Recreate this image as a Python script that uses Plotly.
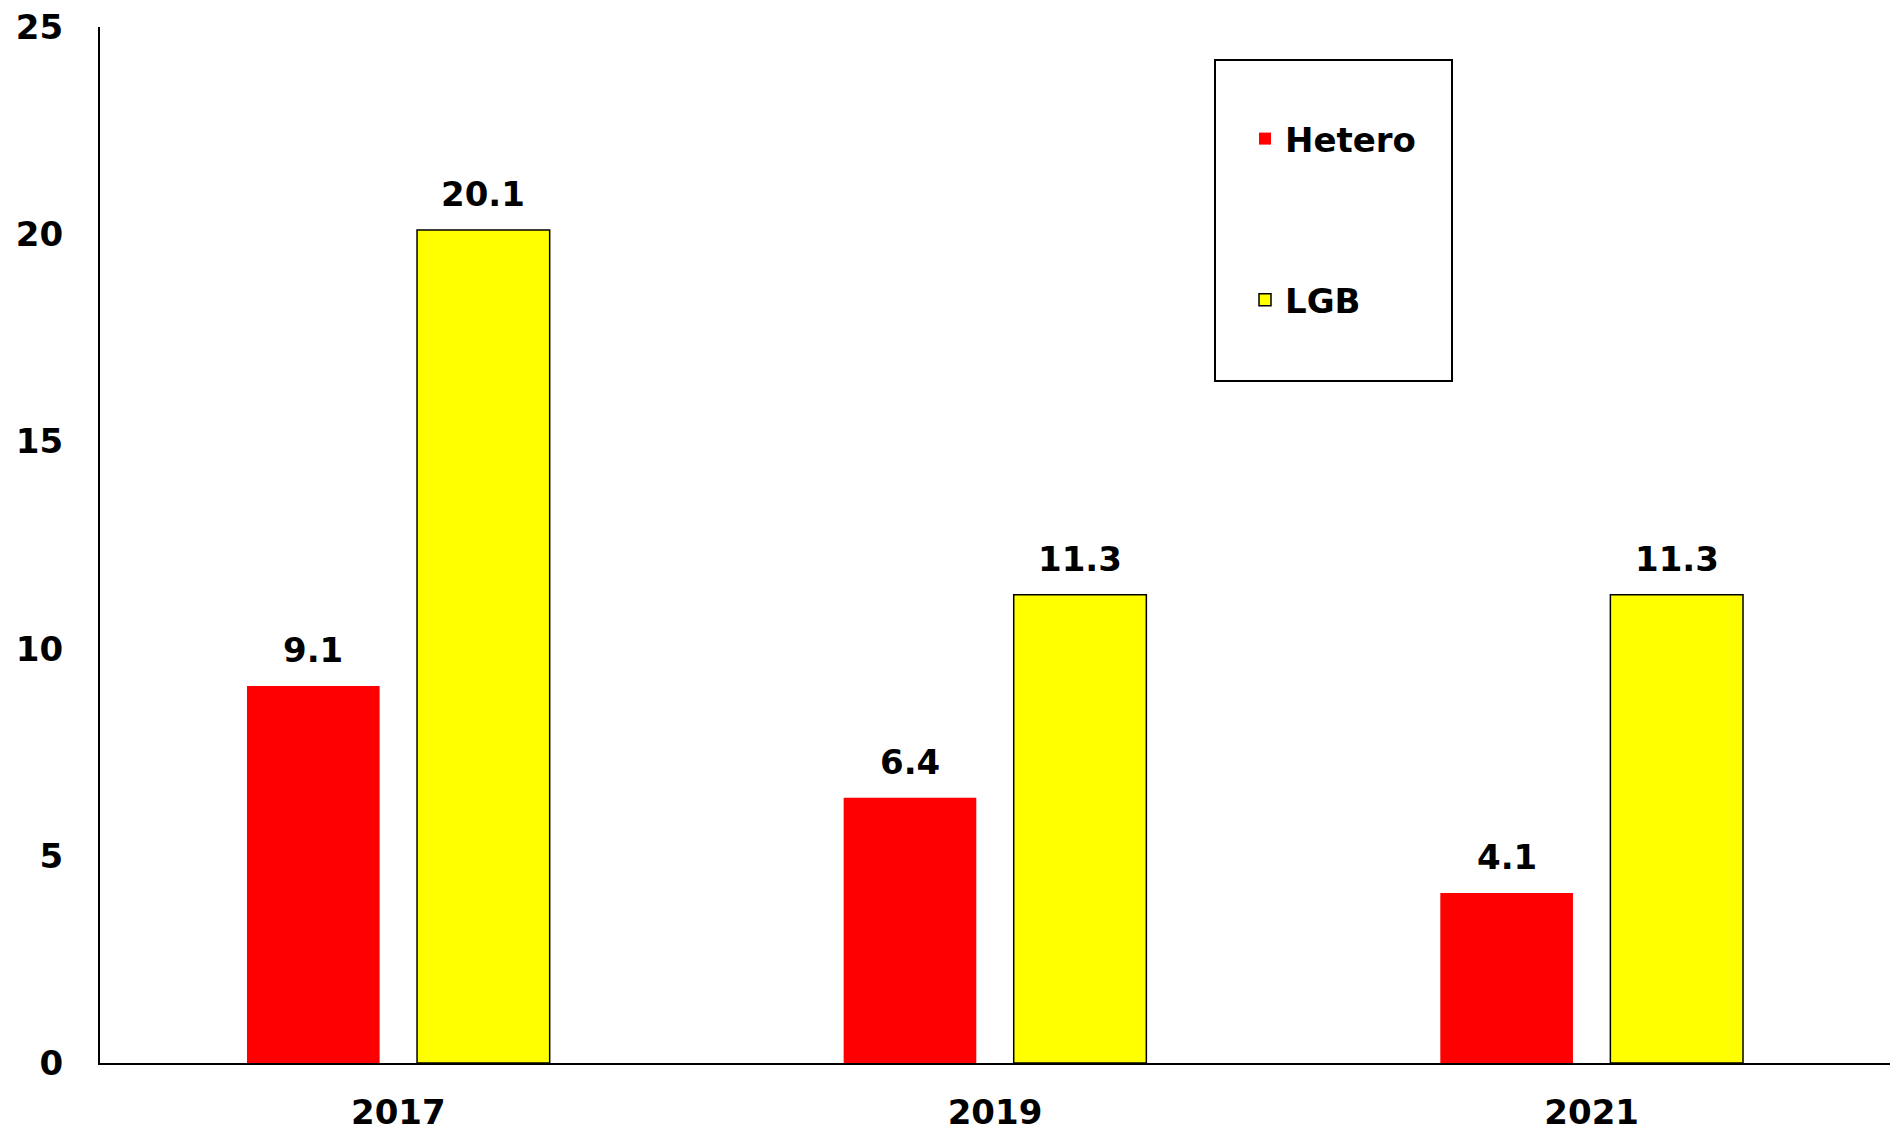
import plotly.graph_objects as go

years = ["2017", "2019", "2021"]
hetero = [9.1, 6.4, 4.1]
lgb = [20.1, 11.3, 11.3]
y_ticks = [0, 5, 10, 15, 20, 25]

FONT = "DejaVu Sans"
FS = 34
BOLD = dict(family=FONT, size=FS, color="black", weight="bold")

fig = go.Figure()
fig.add_trace(go.Bar(
    x=years, y=hetero, name="Hetero", legendgroup="a",
    marker=dict(color="#ff0000", line=dict(width=0)),
))
fig.add_trace(go.Bar(
    x=years, y=lgb, name="LGB", legendgroup="b",
    marker=dict(color="#ffff00", line=dict(width=1.5, color="black")),
))

# value labels above the bars (x given as category index)
for series, shift in ((hetero, -85), (lgb, 85)):
    for i, v in enumerate(series):
        fig.add_annotation(
            x=i, y=v, xref="x", yref="y", text=f"{v:.1f}",
            showarrow=False, xshift=shift, yshift=14, yanchor="bottom",
            font=BOLD,
        )

W, H = 1890, 1133
ml, mr, mt, mb = 100, 0, 27, 70
pw, ph = W - ml - mr, H - mt - mb

def px(x):
    return (x - ml) / pw

def py(y):
    return 1 - (y - mt) / ph

fig.update_layout(
    width=W, height=H,
    margin=dict(l=ml, r=mr, t=mt, b=mb, pad=0),
    paper_bgcolor="white", plot_bgcolor="white",
    barmode="group", bargap=0.43, bargroupgap=0.22,
    font=BOLD,
    showlegend=True,
    legend=dict(
        x=px(1245), y=py(110), xanchor="left", yanchor="top",
        bgcolor="rgba(0,0,0,0)", borderwidth=0,
        tracegroupgap=114, traceorder="grouped",
        font=BOLD,
    ),
    shapes=[dict(
        type="rect", xref="paper", yref="paper",
        x0=px(1215), x1=px(1452), y0=py(381), y1=py(60),
        line=dict(color="black", width=2), fillcolor="rgba(0,0,0,0)",
        layer="above",
    )],
)
fig.update_xaxes(
    type="category", range=[-0.5, len(years) - 0.5],
    showline=True, linecolor="black", linewidth=2, automargin=False,
    showgrid=False, ticks="", ticklabelstandoff=18,
    tickfont=BOLD,
)
fig.update_yaxes(
    range=[0, 25], tickvals=y_ticks, showline=True, linecolor="black",
    linewidth=2, showgrid=False, zeroline=False, ticks="", automargin=False,
    ticklabelstandoff=28,
    tickfont=BOLD,
)
fig.write_html(
    "out.html",
    config={"displayModeBar": False},
    post_script="document.body.style.margin='0';document.body.style.overflow='hidden';",
)
